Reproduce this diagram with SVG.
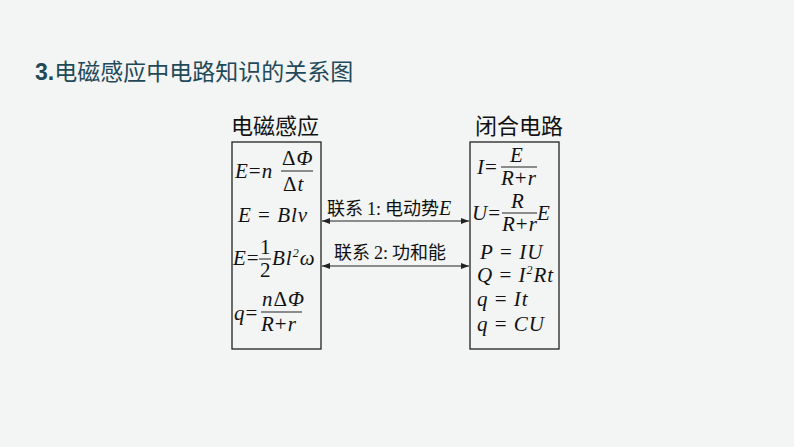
<svg xmlns="http://www.w3.org/2000/svg" width="794" height="447" viewBox="0 0 794 447">
<style>
.m{font-family:"Liberation Serif","Noto Sans CJK SC",serif;font-size:21px;font-style:italic;fill:#111;letter-spacing:1px}
.n{font-style:normal}
.c{font-family:"Noto Sans CJK SC",sans-serif;font-size:22px;fill:#111}
.l{font-family:"Noto Sans CJK SC",sans-serif;font-size:18px;fill:#111}
.b{fill:none;stroke:#222;stroke-width:1.3}
.f{stroke:#222;stroke-width:1}
</style>
<defs><marker id="a" markerWidth="8" markerHeight="6" refX="8" refY="3" orient="auto-start-reverse" markerUnits="userSpaceOnUse"><path d="M0,0 L8,3 L0,6 Z" fill="#222"/></marker></defs>
<rect width="794" height="447" fill="#f3f4f4"/>
<text x="35" y="80" font-family="Noto Sans CJK SC,sans-serif" font-size="23" fill="#1f4a5a"><tspan font-weight="bold" font-family="Liberation Sans,sans-serif">3.</tspan>电磁感应中电路知识的关系图</text>
<g id="left">
<text x="231" y="134" class="c">电磁感应</text>
<rect x="232" y="142" width="89" height="207" class="b"/>
<text x="235" y="178" class="m">E<tspan class="n">=</tspan>n</text>
<text x="282" y="165" class="m"><tspan class="n">Δ</tspan>Φ</text>
<line x1="281" y1="171" x2="313" y2="171" class="f"/>
<text x="283" y="191" class="m"><tspan class="n">Δ</tspan>t</text>
<text x="238" y="222" class="m">E<tspan class="n"> = </tspan>Blv</text>
<text x="233" y="265" class="m">E<tspan class="n">=</tspan></text>
<text x="260" y="254" class="m n">1</text>
<line x1="259" y1="259" x2="271" y2="259" class="f"/>
<text x="260" y="277" class="m n">2</text>
<text x="272" y="265" class="m">Bl<tspan font-size="12" dy="-8">2</tspan><tspan dy="8">ω</tspan></text>
<text x="234" y="320" class="m">q<tspan class="n">=</tspan></text>
<text x="262" y="306" class="m">n<tspan class="n">Δ</tspan>Φ</text>
<line x1="261" y1="312" x2="302" y2="312" class="f"/>
<text x="261" y="331" class="m">R<tspan class="n">+</tspan>r</text>
</g>
<g id="right">
<text x="475" y="134" class="c">闭合电路</text>
<rect x="470" y="142" width="89" height="207" class="b"/>
<text x="477" y="174" class="m">I<tspan class="n">=</tspan></text>
<text x="510" y="162" class="m">E</text>
<line x1="501" y1="167" x2="537" y2="167" class="f"/>
<text x="501" y="185" class="m">R<tspan class="n">+</tspan>r</text>
<text x="472" y="220" class="m">U<tspan class="n">=</tspan></text>
<text x="511" y="208" class="m">R</text>
<line x1="502" y1="213" x2="537" y2="213" class="f"/>
<text x="502" y="231" class="m">R<tspan class="n">+</tspan>r</text>
<text x="537" y="220" class="m">E</text>
<text x="480" y="259" class="m">P<tspan class="n"> = </tspan>IU</text>
<text x="477" y="282" class="m">Q<tspan class="n"> = </tspan>I<tspan font-size="12" dy="-8">2</tspan><tspan dy="8">Rt</tspan></text>
<text x="477" y="306" class="m">q<tspan class="n"> = </tspan>It</text>
<text x="477" y="331" class="m">q<tspan class="n"> = </tspan>CU</text>
</g>
<g id="connectors">
<line x1="322" y1="221" x2="469" y2="221" class="f" marker-start="url(#a)" marker-end="url(#a)"/>
<line x1="322" y1="266" x2="469" y2="266" class="f" marker-start="url(#a)" marker-end="url(#a)"/>
<text x="327" y="215" class="l">联系 <tspan font-family="Liberation Serif">1:</tspan> 电动势<tspan font-family="Liberation Serif" font-style="italic" font-size="20">E</tspan></text>
<text x="334" y="259" class="l">联系 <tspan font-family="Liberation Serif">2:</tspan> 功和能</text>
</g>
</svg>
